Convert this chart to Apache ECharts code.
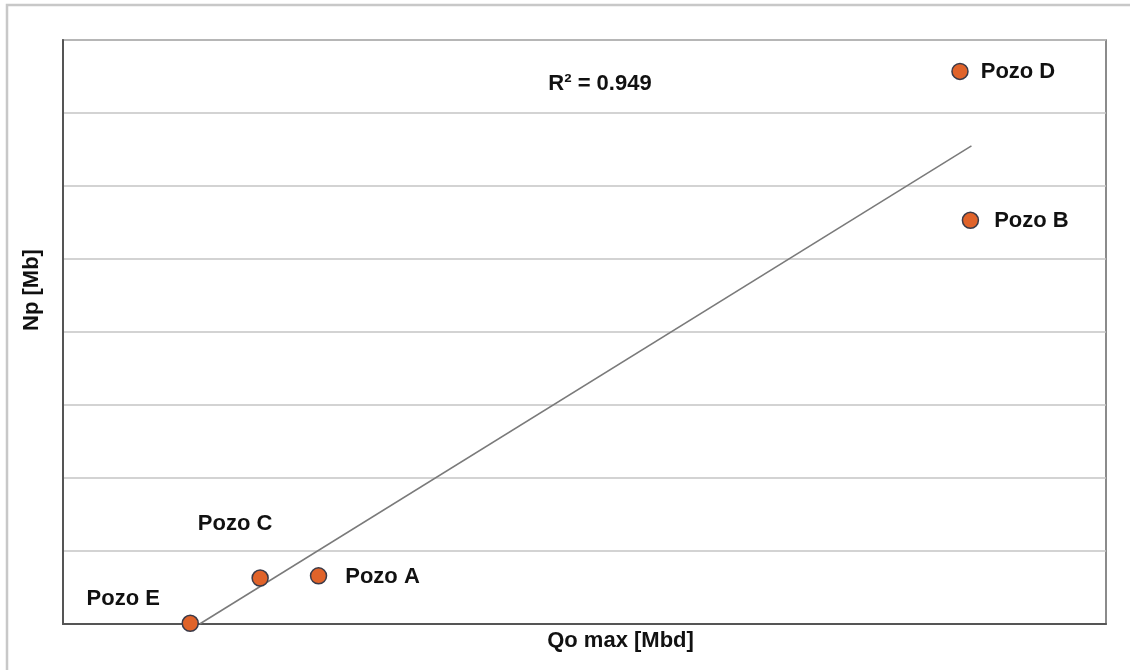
<!DOCTYPE html>
<html>
<head>
<meta charset="utf-8">
<script src="https://cdn.jsdelivr.net/npm/echarts@6/dist/echarts.min.js"></script>
<style>
  html, body { margin: 0; padding: 0; background: #fff; }
  #chart { width: 1130px; height: 670px; }
</style>
</head>
<body>
<div id="chart"></div>
<script>
// Wells: maximum oil rate vs. cumulative production
const wells = ['Pozo E', 'Pozo C', 'Pozo A', 'Pozo B', 'Pozo D'];
const qoMax = [12.2, 18.9, 24.5, 87.0, 86.0];
const np = [0.01, 0.63, 0.66, 5.53, 7.57];

// Linear trend line endpoints
const trendX = [13.1, 87.1];
const trendY = [0.0, 6.55];
const rSquared = '0.949';

// Label placement per well (offset of label centre from the point)
const labelOffsets = {
  'Pozo E': [-67, -24],
  'Pozo C': [-25, -54],
  'Pozo A': [64, 1],
  'Pozo B': [61, 1],
  'Pozo D': [58, 1]
};

const textColor = '#111';
const font = '"Liberation Sans", Arial, sans-serif';

const chart = echarts.init(document.getElementById('chart'));

const points = wells.map((name, i) => ({
  name: name,
  value: [qoMax[i], np[i]],
  label: { offset: labelOffsets[name] }
}));

chart.setOption({
  animation: false,
  grid: {
    left: 63, right: 24, top: 40, bottom: 46,
    show: true,
    borderColor: '#666',
    borderWidth: 1.5,
    backgroundColor: '#fff'
  },
  xAxis: {
    type: 'value',
    min: 0, max: 100,
    name: 'Qo max [Mbd]',
    nameLocation: 'middle',
    nameGap: 6,
    nameTextStyle: {
      fontFamily: font, fontSize: 22, fontWeight: 'bold', color: textColor,
      padding: [0, 0, 0, 72]
    },
    axisLine: { show: true, lineStyle: { color: '#555', width: 2 } },
    axisTick: { show: false },
    axisLabel: { show: false },
    splitLine: { show: false }
  },
  yAxis: {
    type: 'value',
    min: 0, max: 8, interval: 1,
    name: 'Np [Mb]',
    nameLocation: 'middle',
    nameGap: 20,
    nameTextStyle: {
      fontFamily: font, fontSize: 22, fontWeight: 'bold', color: textColor,
      padding: [0, 0, 0, 84]
    },
    axisLine: { show: true, lineStyle: { color: '#555', width: 2 } },
    axisTick: { show: false },
    axisLabel: { show: false },
    splitLine: { show: true, lineStyle: { color: '#c4c4c4', width: 1.5 } }
  },
  graphic: [
    {
      type: 'polyline',
      shape: { points: [[7, 670], [7, 5], [1130, 5]] },
      style: { stroke: '#c8c8c8', lineWidth: 2.5, fill: null }
    },
    {
      type: 'text',
      x: 600, y: 84,
      style: {
        text: 'R² = ' + rSquared,
        font: 'bold 22px ' + font,
        fill: textColor,
        align: 'center',
        verticalAlign: 'middle'
      }
    }
  ],
  series: [
    {
      type: 'line',
      data: trendX.map((x, i) => [x, trendY[i]]),
      showSymbol: false,
      symbol: 'none',
      lineStyle: { color: '#7a7a7a', width: 1.5 },
      silent: true,
      z: 2
    },
    {
      type: 'scatter',
      data: points,
      symbol: 'circle',
      symbolSize: 16,
      itemStyle: { color: '#e0632a', borderColor: '#3a3a48', borderWidth: 1.5, opacity: 1 },
      label: {
        show: true,
        position: 'inside',
        formatter: '{b}',
        fontFamily: font,
        fontSize: 22,
        fontWeight: 'bold',
        color: textColor
      },
      z: 3
    }
  ]
});
</script>
</body>
</html>
